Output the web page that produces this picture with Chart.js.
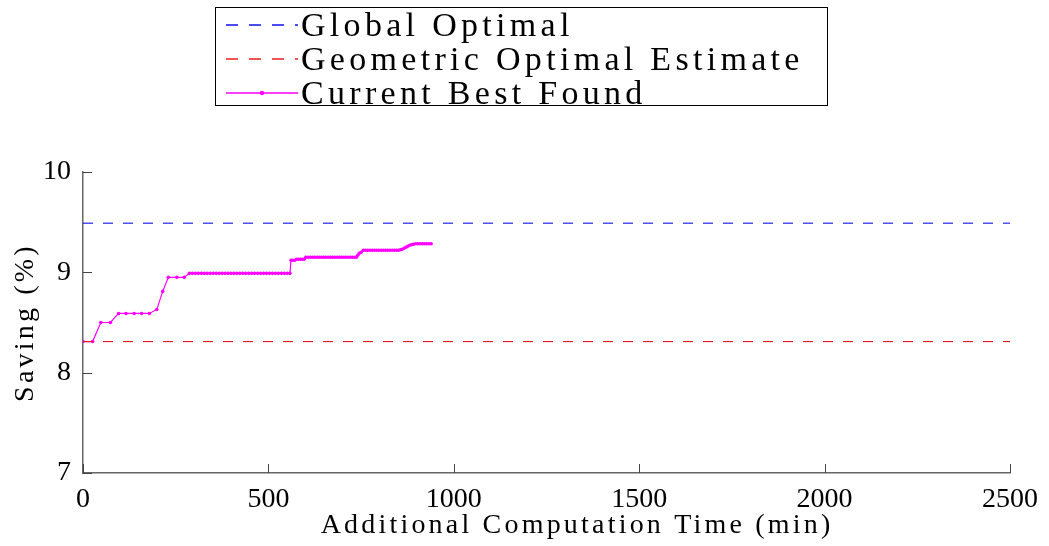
<!DOCTYPE html>
<html>
<head>
<meta charset="utf-8">
<script src="https://cdn.jsdelivr.net/npm/chart.js@4.4.1/dist/chart.umd.min.js"></script>
<style>
  html, body { margin: 0; padding: 0; background: #fff; }
  #wrap { position: relative; width: 1049px; height: 546px; }
  #legend {
    position: absolute; left: 215px; top: 7px; width: 611px; height: 97px;
    border: 1.5px solid #000; background: #fff;
    font-family: "Liberation Serif", serif; font-size: 34px; letter-spacing: 4.3px;
  }
  .row { display: flex; align-items: center; height: 34px; line-height: 34px; }
  .row svg { margin-left: 10px; margin-right: 3px; flex: none; }
</style>
</head>
<body>
<div id="wrap">
  <canvas id="chart" width="1049" height="546"></canvas>
  <div id="legend"></div>
</div>
<script>
/* ===============================
   DATA
================================ */
const seriesNames = ["Global Optimal", "Geometric Optimal Estimate", "Current Best Found"];

const globalOptimalX = [0, 2500];
const globalOptimalY = [9.49, 9.49];

const geometricX = [0, 2500];
const geometricY = [8.31, 8.31];

const bestTime = [
  0, 26, 48, 74, 96, 116, 138, 158, 179, 199, 215, 230, 253, 273, 287,
  295, 303, 311, 319, 327, 335, 343, 351, 359, 367, 375, 383, 391, 399, 407,
  415, 423, 431, 439, 447, 455, 463, 471, 479, 487, 495, 503, 511, 519, 527,
  535, 543, 551, 558,
  561, 566, 571, 576, 581, 586, 591, 596,
  601, 607, 613, 619, 625, 631, 637, 643, 649, 655, 661, 667, 673, 679, 685,
  691, 697, 703, 709, 715, 721, 727, 733, 737,
  741, 745, 750, 756, 762, 768, 774, 780, 786, 792, 798, 804, 810, 816, 822,
  828, 834, 840, 846, 851,
  856, 861, 866, 871, 876, 881, 886, 891, 897, 903, 909, 915, 921, 927, 933, 939
];
const bestSaving = [
  8.31, 8.31, 8.50, 8.50, 8.59, 8.59, 8.59, 8.59, 8.59, 8.63, 8.81, 8.95, 8.95, 8.95, 8.99,
  8.99, 8.99, 8.99, 8.99, 8.99, 8.99, 8.99, 8.99, 8.99, 8.99, 8.99, 8.99, 8.99, 8.99, 8.99,
  8.99, 8.99, 8.99, 8.99, 8.99, 8.99, 8.99, 8.99, 8.99, 8.99, 8.99, 8.99, 8.99, 8.99, 8.99,
  8.99, 8.99, 8.99, 8.99,
  9.12, 9.12, 9.12, 9.13, 9.13, 9.13, 9.13, 9.13,
  9.15, 9.15, 9.15, 9.15, 9.15, 9.15, 9.15, 9.15, 9.15, 9.15, 9.15, 9.15, 9.15, 9.15, 9.15,
  9.15, 9.15, 9.15, 9.15, 9.15, 9.15, 9.15, 9.15, 9.15,
  9.17, 9.19, 9.20, 9.22, 9.22, 9.22, 9.22, 9.22, 9.22, 9.22, 9.22, 9.22, 9.22, 9.22, 9.22,
  9.22, 9.22, 9.22, 9.22, 9.22,
  9.225, 9.23, 9.24, 9.25, 9.26, 9.27, 9.275, 9.28, 9.285, 9.285, 9.285, 9.285, 9.285, 9.285, 9.285, 9.285
];

const xTicks = [0, 500, 1000, 1500, 2000, 2500];
const yTicks = [7, 8, 9, 10];

const toPoints = (xs, ys) => xs.map((x, i) => ({ x: x, y: ys[i] }));

/* ===============================
   PLUGINS
================================ */
// titles get letter spacing, tick labels don't
const spacingPlugin = {
  id: "spacing",
  beforeDraw(chart) { chart.ctx.letterSpacing = "3.2px"; },
  beforeDatasetsDraw(chart) { chart.ctx.letterSpacing = "0px"; }
};

// matlab-like inward tick marks
const innerTicks = {
  id: "innerTicks",
  afterDraw(chart) {
    const ctx = chart.ctx;
    const xs = chart.scales.x, ys = chart.scales.y;
    const area = chart.chartArea;
    ctx.save();
    ctx.strokeStyle = "#444";
    ctx.lineWidth = 1;
    ctx.beginPath();
    xTicks.forEach(v => {
      const px = Math.round(xs.getPixelForValue(v)) + 0.5;
      ctx.moveTo(px, area.bottom);
      ctx.lineTo(px, area.bottom - 9);
    });
    yTicks.forEach(v => {
      const py = Math.round(ys.getPixelForValue(v)) + 0.5;
      ctx.moveTo(area.left, py);
      ctx.lineTo(area.left + 9, py);
    });
    ctx.stroke();
    ctx.restore();
  }
};

/* ===============================
   CHART
================================ */
const serif = "'Liberation Serif', 'Times New Roman', serif";

const chart = new Chart(document.getElementById("chart"), {
  type: "line",
  data: {
    datasets: [
      {
        label: seriesNames[0],
        data: toPoints(globalOptimalX, globalOptimalY),
        borderColor: "#1010f0",
        borderWidth: 1.1,
        borderDash: [10, 10],
        pointRadius: 0
      },
      {
        label: seriesNames[1],
        data: toPoints(geometricX, geometricY),
        borderColor: "#e81c1c",
        borderWidth: 1.1,
        borderDash: [10, 10],
        pointRadius: 0
      },
      {
        label: seriesNames[2],
        data: toPoints(bestTime, bestSaving),
        borderColor: "#ff00ff",
        backgroundColor: "#ff00ff",
        borderWidth: 1.2,
        pointRadius: 1.8,
        pointStyle: "circle",
        pointBorderWidth: 0,
        tension: 0
      }
    ]
  },
  options: {
    responsive: false,
    animation: false,
    layout: { padding: { top: 172, right: 39, left: 0, bottom: 0 } },
    plugins: { legend: { display: false }, tooltip: { enabled: false } },
    scales: {
      x: {
        type: "linear",
        min: 0,
        max: 2500,
        afterBuildTicks: s => { s.ticks = xTicks.map(v => ({ value: v })); },
        afterFit: s => { s.height = 73; },
        grid: { display: false },
        border: { display: true, color: "#666", width: 1.5 },
        ticks: {
          z: 1, color: "#000", padding: 2, maxRotation: 0,
          font: { family: serif, size: 28 },
          callback: v => String(v)
        },
        title: {
          display: true,
          text: "      Additional Computation Time (min)",
          color: "#000",
          padding: { top: 0, bottom: 4 },
          font: { family: serif, size: 28 }
        }
      },
      y: {
        min: 7,
        max: 10,
        afterBuildTicks: s => { s.ticks = yTicks.map(v => ({ value: v })); },
        afterFit: s => { s.width = 83; },
        grid: { display: false },
        border: { display: true, color: "#666", width: 1.5 },
        ticks: {
          z: 1, color: "#000", padding: 4,
          font: { family: serif, size: 28 },
          callback: v => String(v)
        },
        title: {
          display: true,
          text: "Saving (%)",
          color: "#000",
          padding: { top: 9, bottom: 0 },
          font: { family: serif, size: 28 }
        }
      }
    }
  },
  plugins: [spacingPlugin, innerTicks]
});

/* ===============================
   HTML LEGEND (boxed, stacked)
================================ */
function buildLegend() {
  const box = document.getElementById("legend");
  chart.data.datasets.forEach(ds => {
    const row = document.createElement("div");
    row.className = "row";
    const dash = ds.borderDash ? `stroke-dasharray="12 11"` : "";
    const dot = ds.pointRadius ? `<circle cx="36" cy="17" r="2.2" fill="${ds.borderColor}"/>` : "";
    row.innerHTML = `
      <svg width="72" height="34">
        <line x1="0" y1="17" x2="72" y2="17" stroke="${ds.borderColor}" stroke-width="1.4" ${dash}/>
        ${dot}
      </svg>
      <span>${ds.label}</span>`;
    box.appendChild(row);
  });
}

buildLegend();
</script>
</body>
</html>
